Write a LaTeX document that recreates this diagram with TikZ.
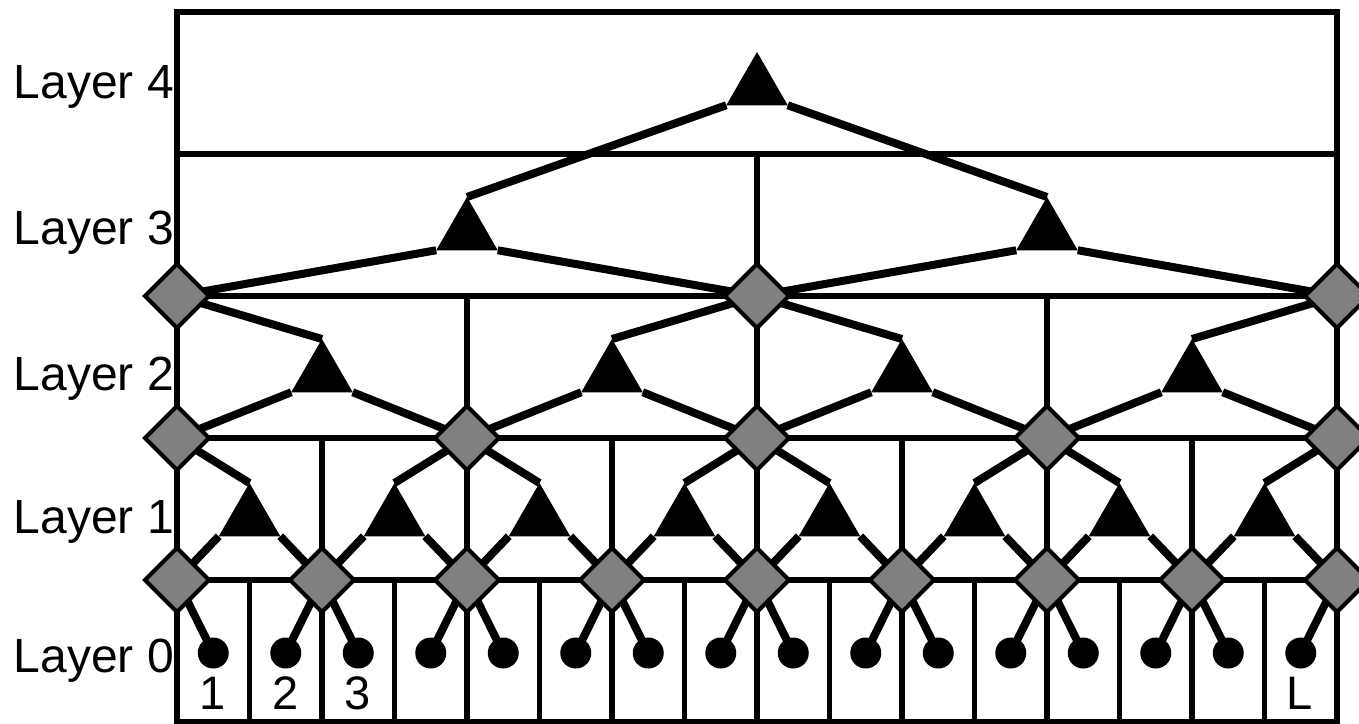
\documentclass[tikz,border=0pt]{standalone}
\usepackage{fontspec}
\setmainfont{Liberation Sans}
\usetikzlibrary{shapes.geometric,backgrounds}
\definecolor{hubgray}{RGB}{128,128,128}
\begin{document}
\begin{tikzpicture}[x=1pt,y=-1pt,
  grid/.style={line width=5.5pt},
  link/.style={line width=8pt},
  hub/.style={diamond, draw=black, fill=hubgray, line width=4pt,
    minimum width=64pt, minimum height=64pt, inner sep=0pt, outer sep=0pt},
  gate/.style={regular polygon, regular polygon sides=3, fill=black,
    minimum size=71pt, inner sep=0pt, outer sep=0pt},
  leafnode/.style={circle, fill=black, minimum size=31pt, inner sep=0pt},
  layerlabel/.style={anchor=base east, inner sep=0pt, font=\fontsize{48}{52}\selectfont},
  idx/.style={anchor=base, inner sep=0pt, font=\fontsize{47}{52}\selectfont}]
\useasboundingbox (0,0) rectangle (1359,723);

% column grid: x(i) = 177 + 72.5 i
\begin{scope}[on background layer]
  \draw[grid] (177,12) rectangle (1337,722);
  \foreach \y in {154,296,438,580} \draw[grid] (177,\y) -- (1337,\y);
  \draw[grid] (757,154) -- (757,296);
  \foreach \i in {4,8,12} \draw[grid] ({177+72.5*\i},296) -- ({177+72.5*\i},438);
  \foreach \i in {2,4,...,14} \draw[grid] ({177+72.5*\i},438) -- ({177+72.5*\i},580);
  \foreach \i in {1,...,15} \draw[grid] ({177+72.5*\i},580) -- ({177+72.5*\i},722);
\end{scope}

% layer labels
\node[layerlabel] (lab4) at (174,98)  {Layer 4};
\node[layerlabel] (lab3) at (174,244) {Layer 3};
\node[layerlabel] (lab2) at (174,390) {Layer 2};
\node[layerlabel] (lab1) at (174,533) {Layer 1};
\node[layerlabel] (lab0) at (174,672) {Layer 0};

% leaf indices
\node[idx] (n1) at (213,709) {1};
\node[idx] (n2) at (285.5,709) {2};
\node[idx] (n3) at (358,709) {3};
\node[idx] (nL) at (1300,709) {L};

% leaves
\foreach \k in {0,...,15}
  \node[leafnode] (leaf-\k) at ({177+72.5*(\k+0.5)},653) {};

% triangles (placed at centroid, a third of the height above the base)
\foreach \i in {1,3,...,15} \node[gate] (t1-\i) at ({177+72.5*\i},518.5) {};
\foreach \i in {2,6,10,14} \node[gate] (t2-\i) at ({177+72.5*\i},374.5) {};
\foreach \i in {4,12} \node[gate] (t3-\i) at ({177+72.5*\i},232.5) {};
\node[gate] (t4-8) at (757,87.5) {};

% hubs on the layer boundaries
\foreach \i in {0,2,...,16} \node[hub] (d1-\i) at ({177+72.5*\i},580) {};
\foreach \i in {0,4,...,16} \node[hub] (d2-\i) at ({177+72.5*\i},438) {};
\foreach \i in {0,8,16} \node[hub] (d3-\i) at ({177+72.5*\i},296) {};

% connectors
\begin{scope}[on background layer]
  % leaves to level-1 hubs
  \foreach \k [evaluate=\k as \h using int(2*int((\k+1)/2))] in {0,...,15}
    \draw[link] (d1-\h.center) -- (leaf-\k.center);
  % level-1 gates
  \foreach \i [evaluate=\i as \l using int(\i-1),
               evaluate=\i as \r using int(\i+1),
               evaluate=\i as \u using int(4*round(\i/4))] in {1,3,...,15} {
    \draw[link] (d1-\l.center) -- (t1-\i.corner 2);
    \draw[link] (t1-\i.corner 3) -- (d1-\r.center);
    \draw[link] (t1-\i.corner 1) -- (d2-\u.center);
  }
  % level-2 gates
  \foreach \i [evaluate=\i as \l using int(\i-2),
               evaluate=\i as \r using int(\i+2),
               evaluate=\i as \u using int(8*round(\i/8))] in {2,6,10,14} {
    \draw[link] (d2-\l.center) -- (t2-\i.corner 2);
    \draw[link] (t2-\i.corner 3) -- (d2-\r.center);
    \draw[link] (t2-\i.corner 1) -- (d3-\u.center);
  }
  % level-3 gates
  \foreach \i [evaluate=\i as \l using int(\i-4),
               evaluate=\i as \r using int(\i+4)] in {4,12} {
    \draw[link] (d3-\l.center) -- (t3-\i.corner 2);
    \draw[link] (t3-\i.corner 3) -- (d3-\r.center);
  }
  % root gate
  \draw[link] (t3-4.corner 1) -- (t4-8.corner 2);
  \draw[link] (t3-12.corner 1) -- (t4-8.corner 3);
\end{scope}
\end{tikzpicture}
\end{document}
